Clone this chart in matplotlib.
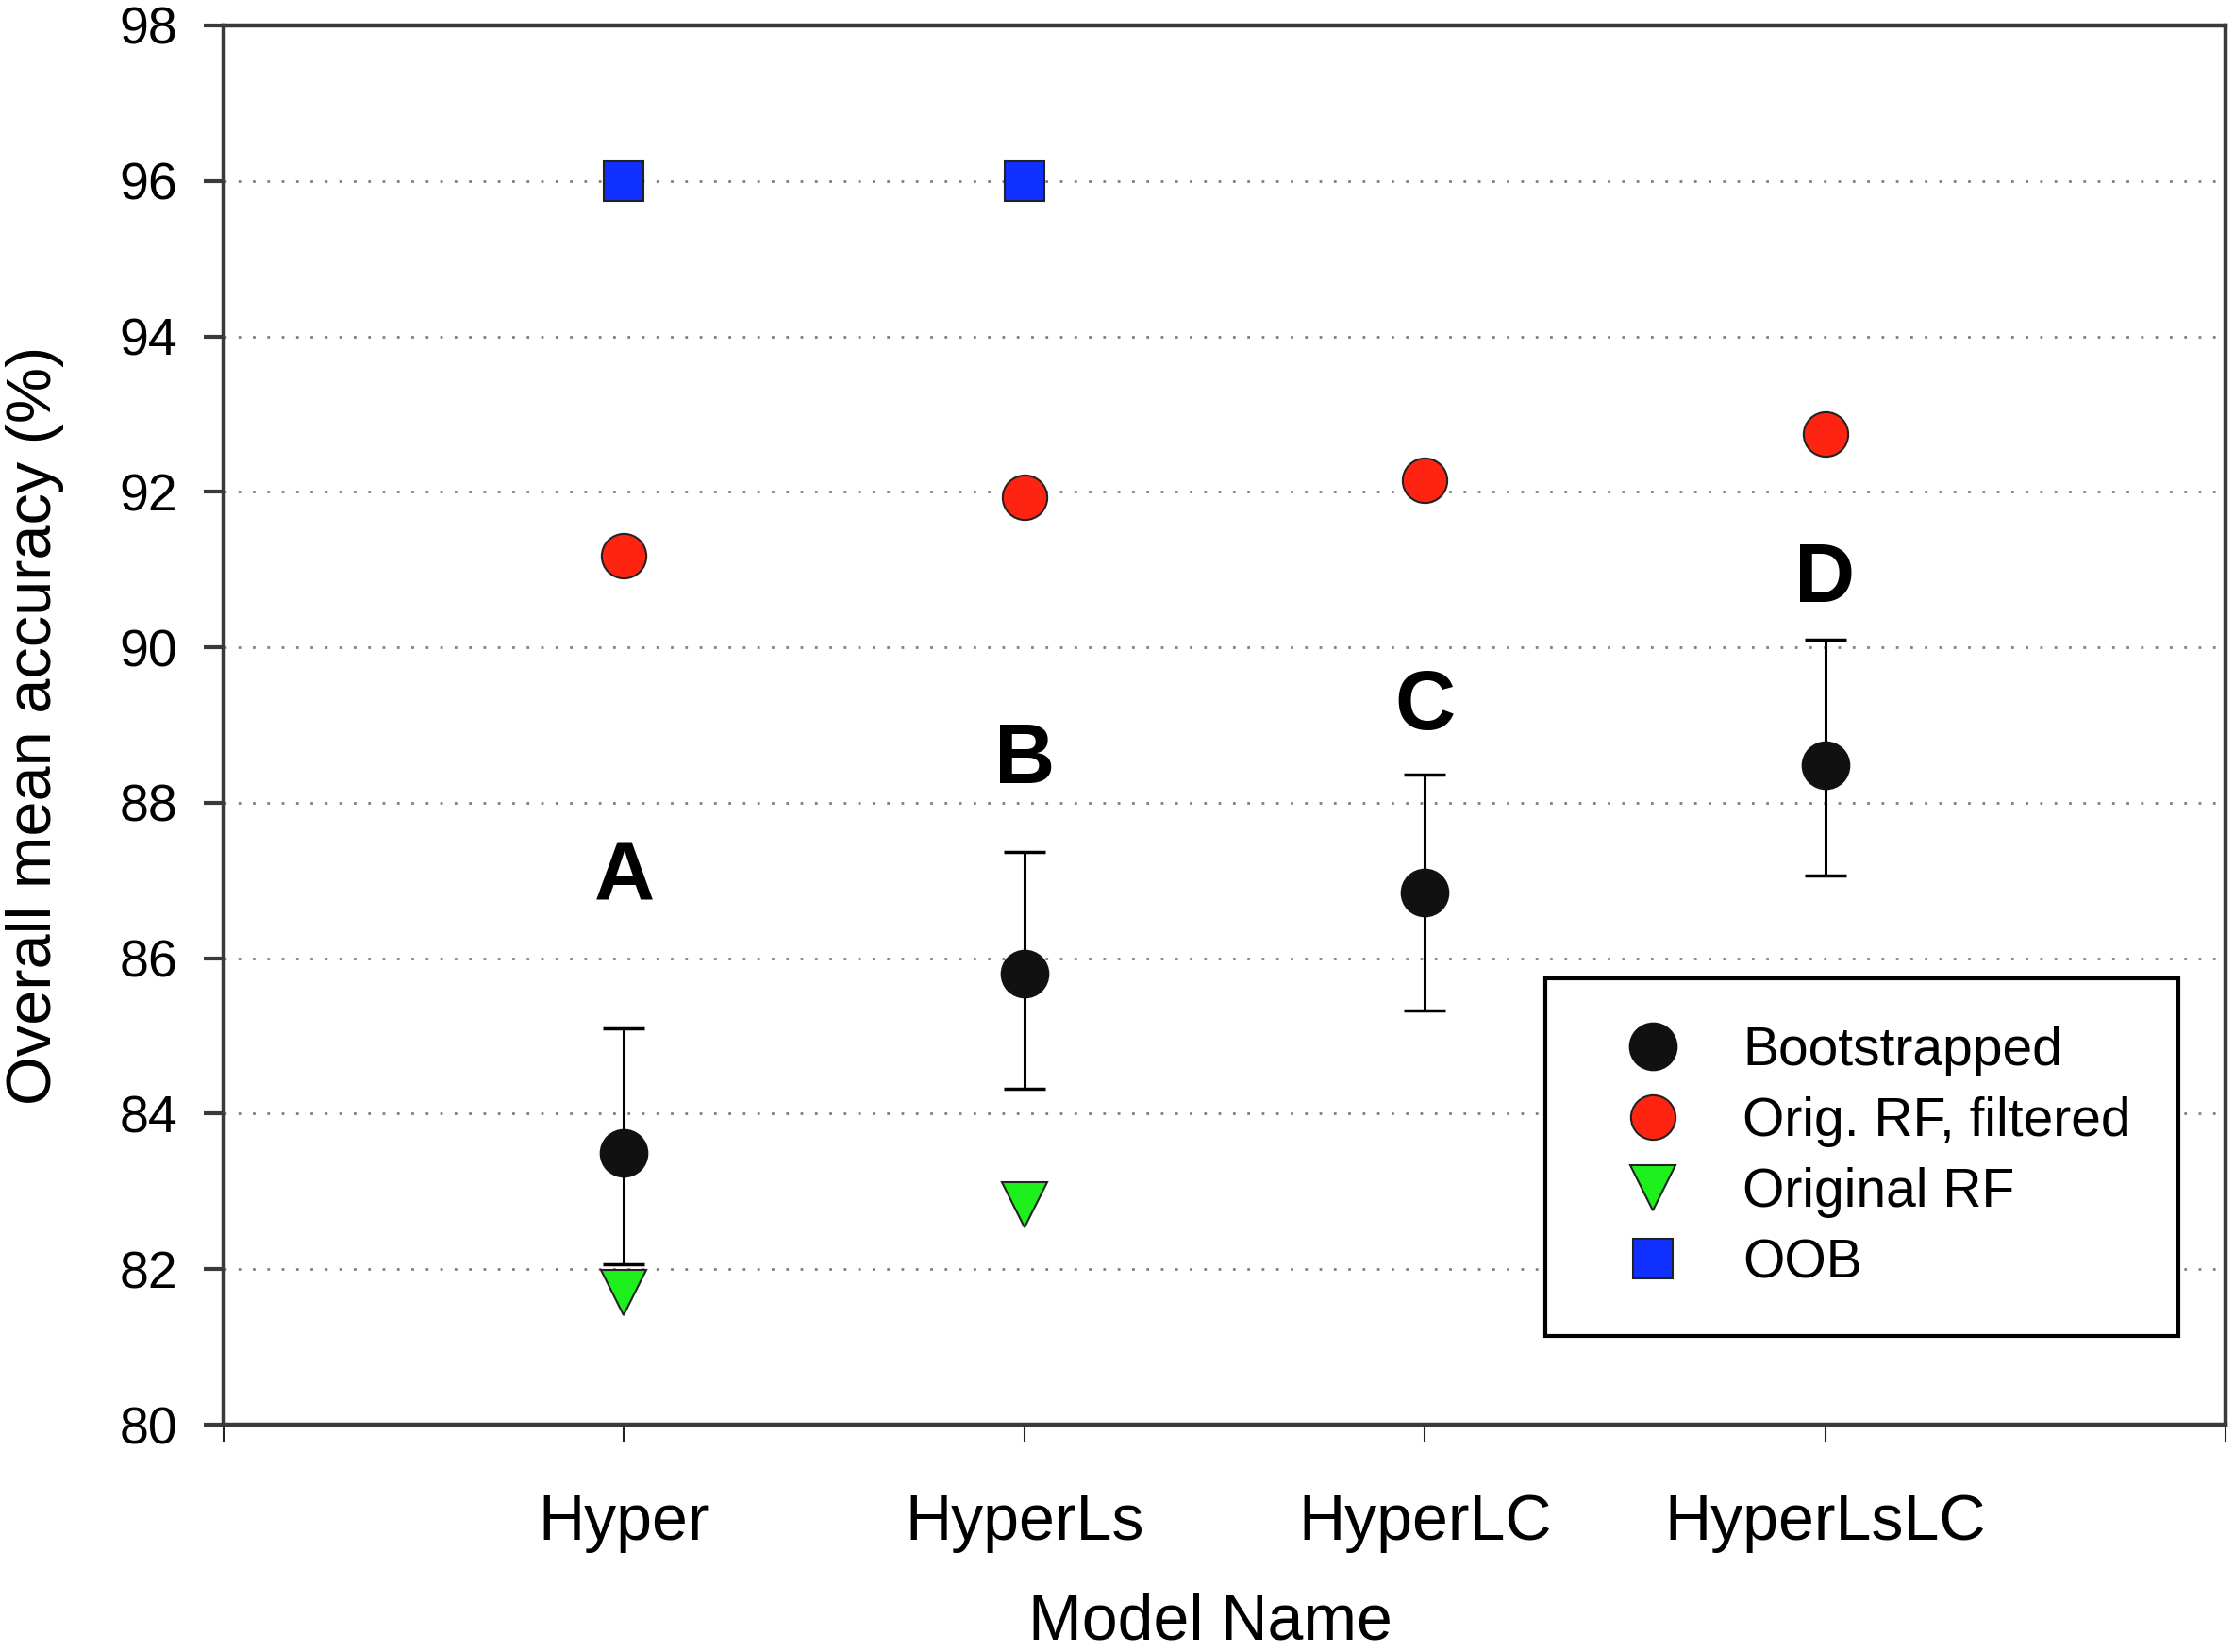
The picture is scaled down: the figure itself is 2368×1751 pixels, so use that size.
import matplotlib
matplotlib.use('Agg')
import matplotlib.pyplot as plt
import numpy as np

plt.rcParams['font.family'] = ['Liberation Sans', 'DejaVu Sans']

# data
models = ['Hyper', 'HyperLs', 'HyperLC', 'HyperLsLC']
boot = [83.50, 85.80, 86.85, 88.49]
boot_hi = [85.10, 87.37, 88.36, 90.10]
boot_lo = [82.06, 84.32, 85.33, 87.07]
rf_filtered = [91.18, 91.93, 92.15, 92.74]
rf_orig = [81.70, 82.83]
oob = [96.0, 96.0]
letters = ['A', 'B', 'C', 'D']
letter_y = [86.74, 88.25, 88.94, 90.59]

x = np.arange(1, len(models) + 1)
err = [np.array(boot) - np.array(boot_lo), np.array(boot_hi) - np.array(boot)]

fig = plt.figure(figsize=(23.68, 17.51), dpi=100)
ax = fig.add_axes([0.1001, 0.1376, 0.8961, 0.8470])

spine_c = '#3a3a3a'

ax.errorbar(x, boot, yerr=err, fmt='none', ecolor='black', elinewidth=2.2,
            capsize=16, capthick=2.5, zorder=3)
ax.plot(x, boot, 'o', color='#111111', markersize=36, markeredgecolor='#111111',
        markeredgewidth=1.2, label='Bootstrapped', zorder=4)
ax.plot(x, rf_filtered, 'o', color='#ff2312', markersize=34, markeredgecolor='#222222',
        markeredgewidth=1.5, label='Orig. RF, filtered', zorder=4)
ax.plot(x[:len(rf_orig)], rf_orig, 'v', color='#1ef01e', markersize=35,
        markeredgecolor='#222222', markeredgewidth=1.5, label='Original RF', zorder=4)
ax.plot(x[:len(oob)], oob, 's', color='#1030ff', markersize=30,
        markeredgecolor='#222222', markeredgewidth=1.5, label='OOB', zorder=4)

# group letters above each point
for xi, t, ty in zip(x, letters, letter_y):
    ax.text(xi, ty, t, fontsize=64, fontweight='bold', ha='center', va='baseline', zorder=5)

ax.set_xlim(0, 5)
ax.set_ylim(80, 98)
ax.set_xticks(range(0, 6))
ax.set_xticklabels([''] + models + [''])
ax.set_yticks(np.arange(80, 99, 2))

ax.yaxis.grid(True, linestyle=(0, (1, 4.5)), linewidth=2, color='#808080')
ax.set_axisbelow(True)

for s in ['left', 'bottom', 'top', 'right']:
    ax.spines[s].set_linewidth(3.2)
    ax.spines[s].set_color(spine_c)

ax.tick_params(axis='y', direction='out', length=15, width=3, color=spine_c,
               labelsize=40, pad=20)
ax.tick_params(axis='x', direction='out', length=13, width=1.5, color='#222222',
               labelsize=49, pad=39)

ax.set_xlabel('Model Name', fontsize=49, labelpad=30)
ax.xaxis.label.set_x(0.493)
ax.set_ylabel('Overall mean accuracy (%)', fontsize=48, labelpad=42)

leg = ax.legend(loc='upper left', bbox_to_anchor=(0.660, 0.319), borderaxespad=0,
                fontsize=41, numpoints=1, frameon=True, fancybox=False,
                edgecolor='black', framealpha=1, borderpad=0.88,
                labelspacing=0.37, handlelength=2.25, handletextpad=0.55)
leg.get_frame().set_linewidth(3)

fig.savefig('out.png', dpi=100)
